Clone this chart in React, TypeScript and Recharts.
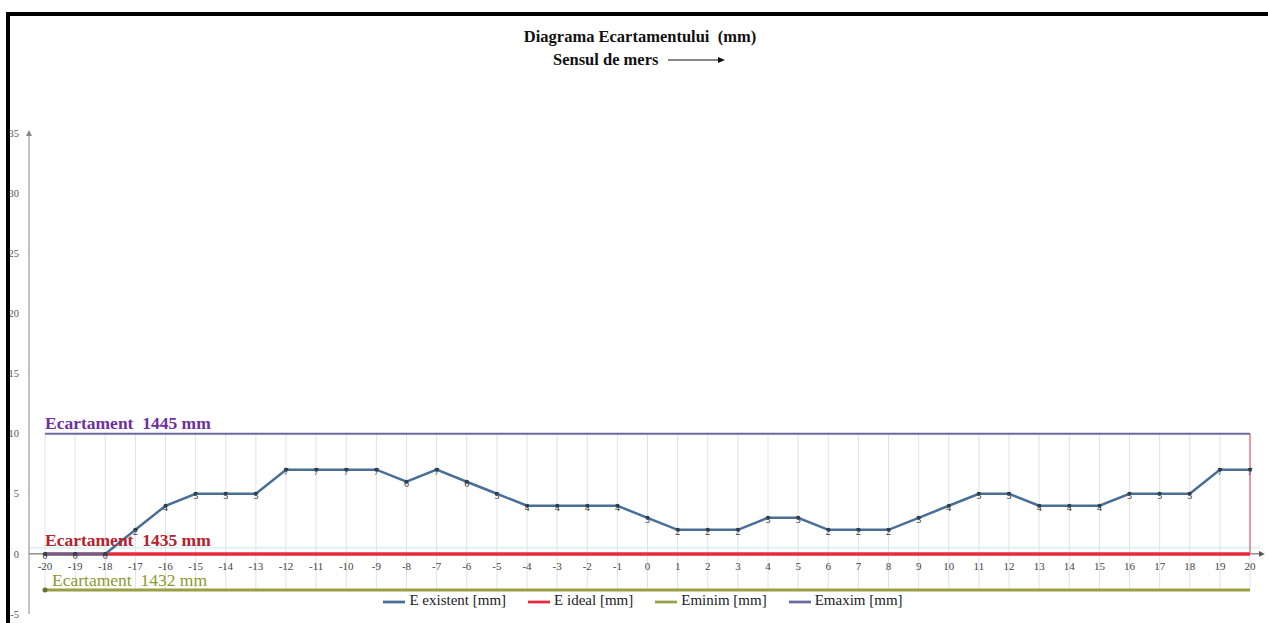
import React from "react";
import {
  ComposedChart,
  Line,
  XAxis,
  YAxis,
  ReferenceLine,
  ReferenceDot,
  ErrorBar,
  LabelList,
  Legend,
} from "recharts";

const FONT = '"Liberation Serif", "Times New Roman", serif';

// pozitia de masurare (m)
const pozitii = [
  -20, -19, -18, -17, -16, -15, -14, -13, -12, -11, -10, -9, -8, -7, -6, -5, -4, -3, -2, -1,
  0, 1, 2, 3, 4, 5, 6, 7, 8, 9, 10, 11, 12, 13, 14, 15, 16, 17, 18, 19, 20,
];

// abaterea ecartamentului fata de 1435 mm
const eExistent = [
  0, 0, 0, 2, 4, 5, 5, 5, 7, 7, 7, 7, 6, 7, 6, 5, 4, 4, 4, 4,
  3, 2, 2, 2, 3, 3, 2, 2, 2, 3, 4, 5, 5, 4, 4, 4, 5, 5, 5, 7, 7,
];

const E_IDEAL = 0;
const E_MINIM = -3;
const E_MAXIM = 10;

const yTicks = [-5, 0, 5, 10, 15, 20, 25, 30, 35];
const legendOrder = ["E existent [mm]", "E ideal [mm]", "Eminim [mm]", "Emaxim [mm]"];

function eticheta(text: string, color: string, dx: number, dy: number, weight: string) {
  return (props: any) => {
    const vb = props.viewBox || {};
    return (
      <text
        x={vb.x + dx}
        y={vb.y + dy}
        fill={color}
        fontFamily={FONT}
        fontSize={17.5}
        fontWeight={weight}
        style={{ whiteSpace: "pre" }}
      >
        {text}
      </text>
    );
  };
}

export default function App() {
  const data = pozitii.map((p, i) => ({
    poz: p,
    existent: eExistent[i],
    ideal: E_IDEAL,
    minim: E_MINIM,
    maxim: E_MAXIM,
  }));

  return (
    <div
      style={{
        position: "relative",
        width: 1268,
        height: 623,
        background: "#fff",
        fontFamily: FONT,
        overflow: "hidden",
      }}
    >
      <style>{"body{margin:0}"}</style>

      <div
        style={{
          position: "absolute",
          left: 440,
          top: 27,
          width: 400,
          textAlign: "center",
          fontSize: 16.5,
          fontWeight: "bold",
          color: "#111",
          whiteSpace: "pre",
        }}
      >
        {"Diagrama Ecartamentului  (mm)"}
      </div>
      <div
        style={{
          position: "absolute",
          left: 553,
          top: 50,
          display: "flex",
          alignItems: "center",
          fontSize: 16.5,
          fontWeight: "bold",
          color: "#111",
        }}
      >
        <span>Sensul de mers</span>
        <svg width={62} height={10} style={{ marginLeft: 10 }}>
          <line x1={0} y1={5} x2={54} y2={5} stroke="#111" strokeWidth={1.2} />
          <path d="M50,2 L57,5 L50,8 z" fill="#111" />
        </svg>
      </div>

      <div style={{ position: "absolute", left: 0, top: 0 }}>
        <ComposedChart
          width={1268}
          height={623}
          data={data}
          margin={{ top: 133, right: 8, bottom: 9, left: 0 }}
        >
          <defs>
            <marker
              id="sageataY"
              viewBox="0 0 10 10"
              refX="5"
              refY="5"
              markerWidth="5"
              markerHeight="5"
              orient="auto-start-reverse"
            >
              <path d="M0,0 L10,5 L0,10 z" fill="#888" />
            </marker>
            <marker
              id="sageataX"
              viewBox="0 0 10 10"
              refX="2"
              refY="5"
              markerWidth="6"
              markerHeight="6"
              orient="auto"
            >
              <path d="M0,0 L10,5 L0,10 z" fill="#555" />
            </marker>
          </defs>

          <XAxis dataKey="poz" type="category" hide padding={{ left: 16, right: 10 }} />
          <YAxis
            type="number"
            domain={[-5, 35]}
            ticks={yTicks}
            width={29}
            tickLine={false}
            tickSize={8}
            axisLine={{ stroke: "#999", strokeWidth: 1.2, markerStart: "url(#sageataY)" }}
            tick={{ fontSize: 10.5, fill: "#555", fontFamily: FONT }}
          />

          <ReferenceLine y={0.5} stroke="#dff3f7" strokeWidth={2} />
          <ReferenceLine
            y={0}
            stroke="#555"
            strokeWidth={1}
            markerEnd="url(#sageataX)"
          />

          {/* linii verticale de grila intre Eminim si Emaxim */}
          <Line
            dataKey="minim"
            stroke="none"
            dot={false}
            legendType="none"
            isAnimationActive={false}
          >
            <ErrorBar
              dataKey={() => [0, E_MAXIM - E_MINIM]}
              direction="y"
              width={0}
              stroke="#e2e2e2"
              strokeWidth={1}
            />
          </Line>

          <ReferenceLine
            segment={[
              { x: 20, y: E_IDEAL },
              { x: 20, y: E_MAXIM },
            ]}
            stroke="#e04050"
            strokeWidth={1}
          />

          <Line
            name="E ideal [mm]"
            dataKey="ideal"
            stroke="#e8283c"
            strokeWidth={3.5}
            dot={false}
            isAnimationActive={false}
          >
            <LabelList
              dataKey="poz"
              position="bottom"
              offset={8}
              fontSize={11}
              fill="#444"
              fontFamily={FONT}
            />
          </Line>
          <Line
            name="Eminim [mm]"
            dataKey="minim"
            stroke="#97a043"
            strokeWidth={3}
            dot={(p: any) =>
              p.index === 0 ? (
                <circle key="d0" cx={p.cx} cy={p.cy} r={2.5} fill="#6b7030" />
              ) : (
                <g key={"d" + p.index} />
              )
            }
            isAnimationActive={false}
          />
          <Line
            name="Emaxim [mm]"
            dataKey="maxim"
            stroke="#6a6a9c"
            strokeWidth={2}
            dot={false}
            isAnimationActive={false}
          />
          <Line
            name="E existent [mm]"
            dataKey="existent"
            stroke="#4a6f96"
            strokeWidth={2.5}
            dot={{ r: 2, fill: "#2f455e", stroke: "none" }}
            isAnimationActive={false}
          >
            <LabelList
              dataKey="existent"
              position="bottom"
              offset={-2}
              fontSize={10}
              fill="#333"
              fontFamily={FONT}
            />
          </Line>

          <ReferenceDot
            x={-20}
            y={E_MAXIM}
            r={0}
            label={eticheta("Ecartament  1445 mm", "#7030a0", 0, -5, "bold")}
          />
          <ReferenceDot
            x={-20}
            y={E_IDEAL}
            r={0}
            label={eticheta("Ecartament  1435 mm", "#b8202c", 0, -8, "bold")}
          />
          <ReferenceDot
            x={-20}
            y={E_MINIM}
            r={0}
            label={eticheta("Ecartament  1432 mm", "#8a9a2c", 7, -4, "normal")}
          />

          <Legend
            layout="horizontal"
            align="center"
            verticalAlign="middle"
            iconType="plainline"
            iconSize={22}
            itemSorter={(item: any) => legendOrder.indexOf(item.value)}
            wrapperStyle={{ top: 591, left: 24, fontFamily: FONT, fontSize: 15 }}
            formatter={(v: any) => (
              <span style={{ color: "#222", marginRight: 12 }}>{v}</span>
            )}
          />
        </ComposedChart>
      </div>

      <div
        style={{
          position: "absolute",
          left: 6,
          top: 12,
          width: 1262,
          height: 611,
          borderTop: "4px solid #000",
          borderLeft: "4px solid #000",
          boxSizing: "border-box",
          pointerEvents: "none",
        }}
      />
    </div>
  );
}
